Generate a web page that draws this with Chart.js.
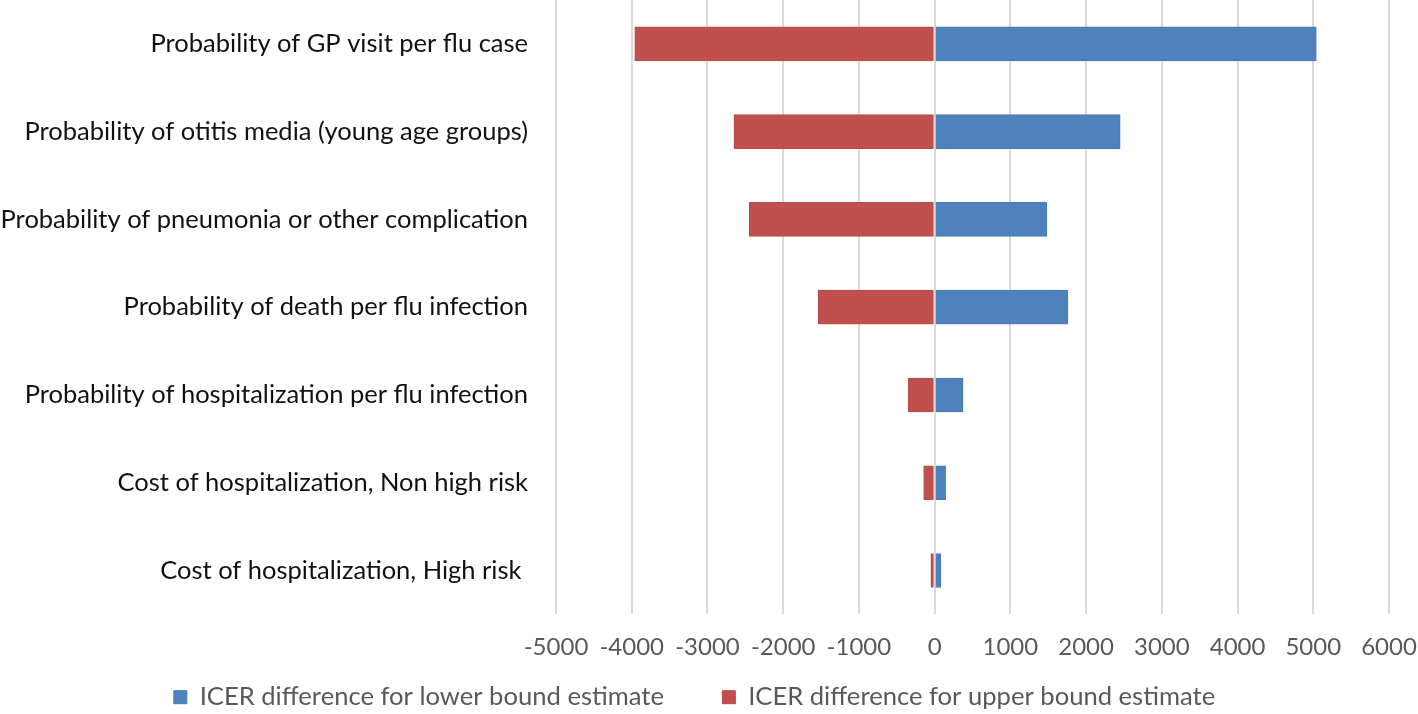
<!DOCTYPE html>
<html>
<head>
<meta charset="utf-8">
<script src="https://cdn.jsdelivr.net/npm/chart.js@4/dist/chart.umd.min.js"></script>
<style>
  html, body { margin: 0; padding: 0; background: #fff; }
  #wrap { width: 1418px; height: 714px; }
</style>
</head>
<body>
<div id="wrap"><canvas id="tornado"></canvas></div>
<script>
var categories = [
    "Probability of GP visit per flu case",
    "Probability of otitis media (young age groups)",
    "Probability of pneumonia or other complication",
    "Probability of death per flu infection",
    "Probability of hospitalization per flu infection",
    "Cost of hospitalization, Non high risk",
    "Cost of hospitalization, High risk "
];
var lowerBound = [5040, 2450, 1480, 1760, 375, 145, 80];
var upperBound = [-3960, -2650, -2450, -1540, -350, -145, -50];
var seriesNames = ["ICER difference for lower bound estimate", "ICER difference for upper bound estimate"];

var fontName = "Lato, 'Open Sans', sans-serif";

new Chart(document.getElementById("tornado"), {
    type: "bar",
    data: {
        labels: categories,
        datasets: [
            {
                label: seriesNames[0],
                data: lowerBound,
                backgroundColor: "#4F81BD",
                borderColor: "#4a7ab5",
                borderWidth: 1,
                barThickness: 34
            },
            {
                label: seriesNames[1],
                data: upperBound,
                backgroundColor: "#C0504D",
                borderColor: "#b84c49",
                borderWidth: 1,
                barThickness: 34
            }
        ]
    },
    options: {
        indexAxis: "y",
        responsive: true,
        maintainAspectRatio: false,
        animation: false,
        layout: { padding: { top: 0, right: 29, bottom: -6, left: 0 } },
        scales: {
            x: {
                stacked: true,
                min: -5000,
                max: 6000,
                border: { display: false },
                grid: { color: "#d9d9d9", lineWidth: 2, drawTicks: false },
                ticks: {
                    stepSize: 1000,
                    padding: 18,
                    color: "#595959",
                    font: { family: fontName, size: 24 },
                    callback: function(v) { return String(v); }
                },
                afterFit: function(scale) {
                    scale.height = 50;
                    scale.paddingLeft = 0;
                    scale.paddingRight = 0;
                }
            },
            y: {
                stacked: true,
                border: { display: false },
                grid: { display: false, drawTicks: false },
                ticks: {
                    padding: 28,
                    color: "#111",
                    font: { family: fontName, size: 25.5 }
                },
                afterFit: function(scale) {
                    scale.width = 556;
                    scale.paddingTop = 0;
                    scale.paddingBottom = 0;
                }
            }
        },
        plugins: {
            legend: {
                position: "bottom",
                labels: {
                    boxWidth: 13,
                    boxHeight: 13,
                    padding: 20,
                    color: "#595959",
                    font: { family: fontName, size: 25.6 },
                    // wider gap after the first item, like the excel legend
                    generateLabels: function(chart) {
                        var items = Chart.defaults.plugins.legend.labels.generateLabels(chart);
                        items[0].text = items[0].text + "\u2003\u2003";
                        return items;
                    }
                }
            },
            tooltip: { enabled: false }
        }
    }
});
</script>
</body>
</html>
